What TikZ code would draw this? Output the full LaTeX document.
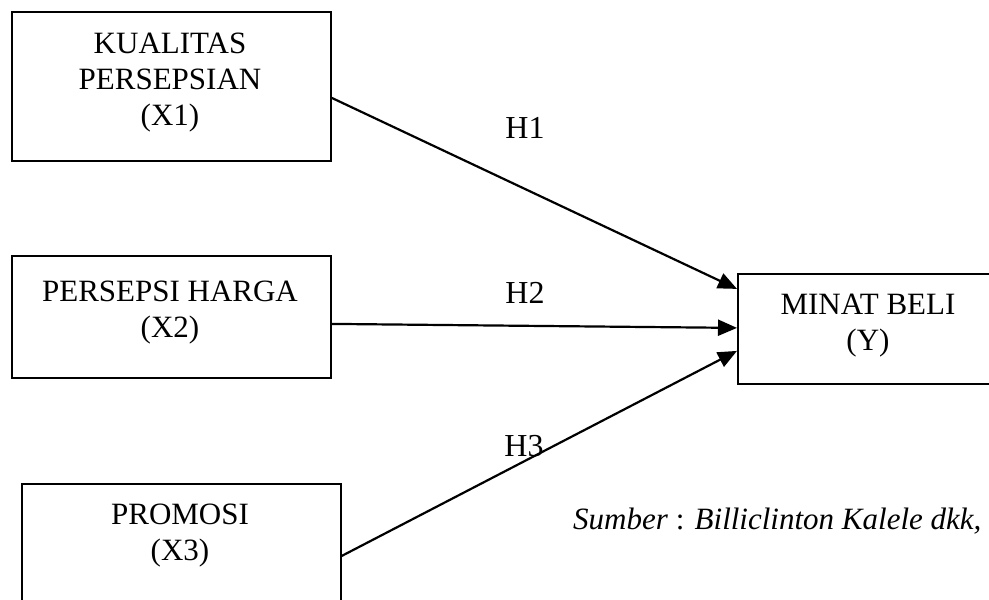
\documentclass[tikz,border=0pt]{standalone}
\usepackage{fontspec}
\setmainfont{Liberation Serif}
\usetikzlibrary{arrows.meta}
\begin{document}
\begin{tikzpicture}[x=1pt,y=-1pt,
    varBox/.style={draw,line width=1.8pt,inner sep=0pt,anchor=north west},
    varText/.style={align=center,inner sep=0pt,anchor=base,font=\fontsize{31}{36}\selectfont},
    hypLabel/.style={inner sep=0pt,anchor=base,font=\fontsize{32}{36}\selectfont},
    hypArrow/.style={line width=2.2pt,-{Triangle[length=19pt,width=16pt]}},
  ]
  \useasboundingbox (0,0) rectangle (989,600);

  % variable boxes
  \node[varBox,minimum width=319pt,minimum height=149pt] (x1) at (11,11) {};
  \node[varBox,minimum width=319pt,minimum height=122pt] (x2) at (11,255) {};
  \node[varBox,minimum width=319pt,minimum height=130pt] (x3) at (21,483) {};
  \node[varBox,minimum width=262pt,minimum height=110pt] (y) at (737,273) {};

  \node[varText] (x1txt) at (170,125) {KUALITAS\\PERSEPSIAN\\(X1)};
  \node[varText] (x2txt) at (170,337) {PERSEPSI HARGA\\(X2)};
  \node[varText] (x3txt) at (180,560) {PROMOSI\\(X3)};
  \node[varText] (ytxt) at (868,350) {MINAT BELI\\(Y)};

  % hypotheses
  \draw[hypArrow] ([yshift=-11.5pt]x1.east) -- ([yshift=40pt]y.west);
  \draw[hypArrow] ([yshift=-7pt]x2.east) -- ([yshift=1pt]y.west);
  \draw[hypArrow] ([yshift=-7pt]x3.east) -- ([yshift=-22pt]y.west);

  \node[hypLabel] (h1) at (525,138) {H1};
  \node[hypLabel] (h2) at (525,303) {H2};
  \node[hypLabel] (h3) at (524,456) {H3};

  \node[inner sep=0pt,anchor=base west,font=\fontsize{31}{34}\selectfont] (src)
    at (573,529) {\textit{Sumber} : \textit{Billiclinton Kalele dkk,}};
\end{tikzpicture}
\end{document}
